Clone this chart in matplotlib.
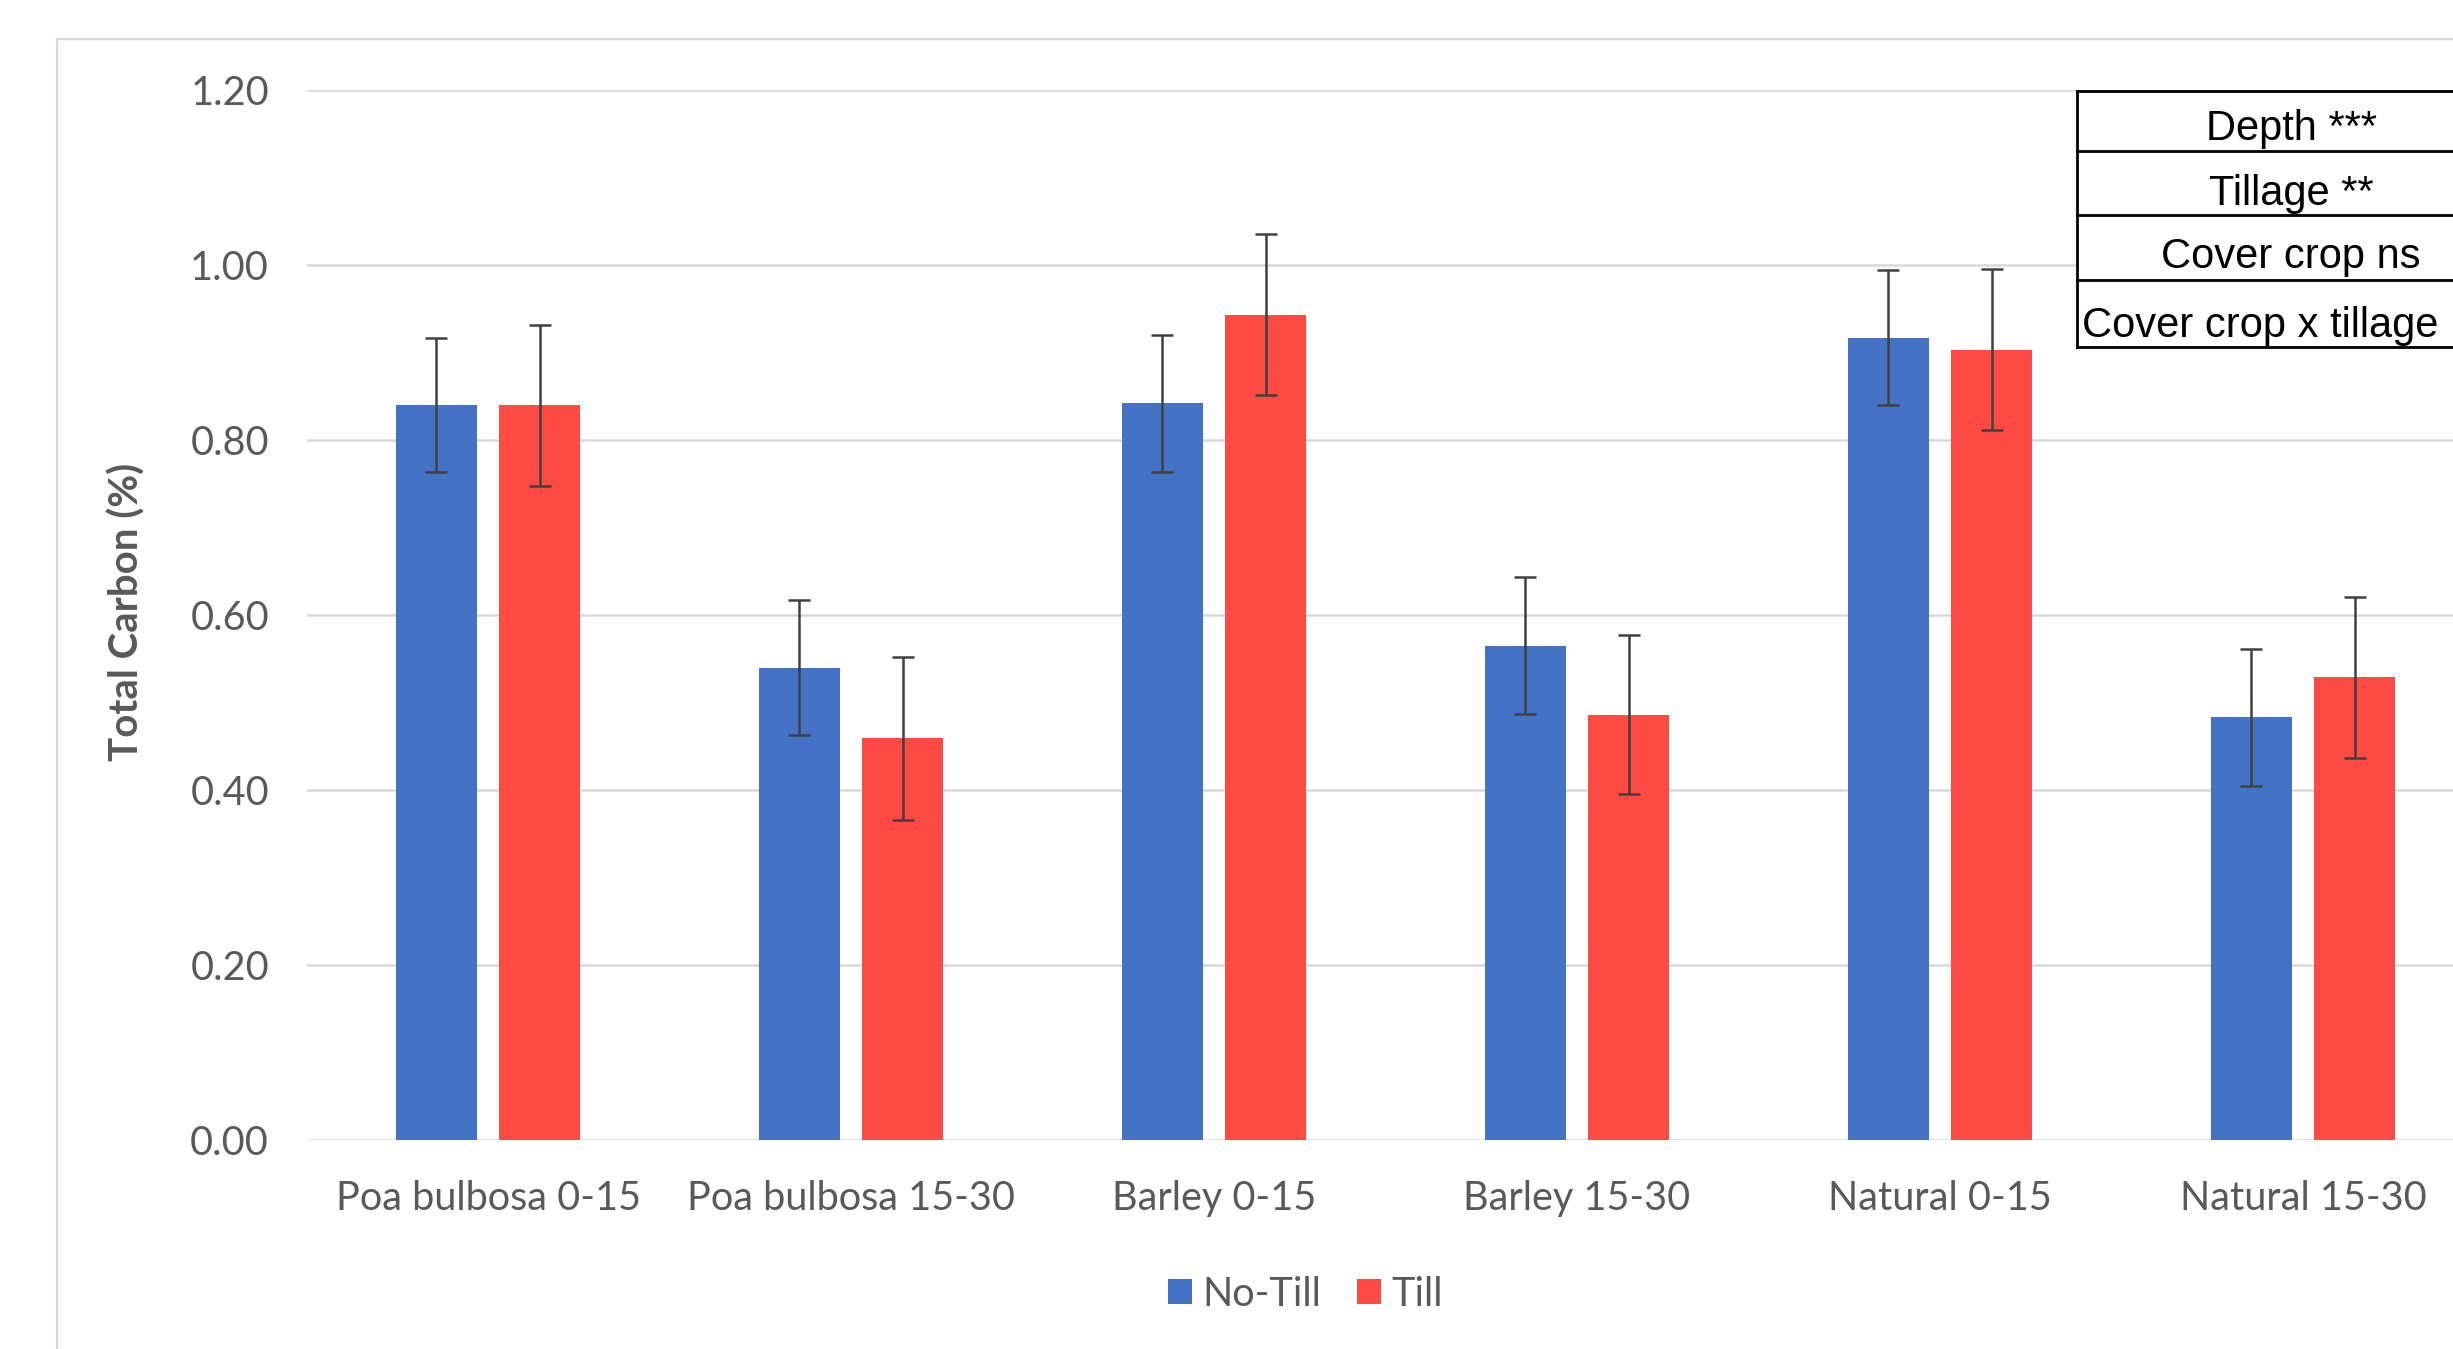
import numpy as np
import matplotlib
matplotlib.use("Agg")
import matplotlib.pyplot as plt
from matplotlib.lines import Line2D
from matplotlib.patches import Patch

# data
categories = ["Poa bulbosa 0-15", "Poa bulbosa 15-30", "Barley 0-15",
              "Barley 15-30", "Natural 0-15", "Natural 15-30"]
no_till = [0.840, 0.540, 0.842, 0.565, 0.917, 0.483]
no_till_err = [0.077, 0.077, 0.078, 0.078, 0.077, 0.078]
till = [0.840, 0.459, 0.943, 0.486, 0.903, 0.529]
till_err = [0.092, 0.093, 0.092, 0.091, 0.092, 0.092]
yticks = [0.0, 0.2, 0.4, 0.6, 0.8, 1.0, 1.2]
table_rows = ["Depth ***", "Tillage **", "Cover crop ns", "Cover crop x tillage"]

BLUE = "#4472C4"
RED = "#FF4B44"
GRAY = "#595959"
GRID = "#D9D9D9"

W, H = 2453, 1349
fig = plt.figure(figsize=(W / 100, H / 100), dpi=100)
fig.patch.set_facecolor("white")

def fx(px):
    return px / W

def fy(py):
    return 1 - py / H

# axes spans past the right edge, as in the cropped original
ax_l, ax_r, ax_b, ax_t = 306.5, 2484.5, 1140, 90
ax = fig.add_axes([fx(ax_l), fy(ax_b), (ax_r - ax_l) / W, (ax_b - ax_t) / H])

x = np.arange(len(categories))
bw = 0.224
off = 0.142
ekw = dict(ecolor="#404040", elinewidth=1.8, capsize=8, capthick=1.8)
ax.bar(x - off, no_till, bw, color=BLUE, yerr=no_till_err, error_kw=ekw, zorder=3, label="No-Till")
ax.bar(x + off, till, bw, color=RED, yerr=till_err, error_kw=ekw, zorder=3, label="Till")

ax.set_xlim(-0.5, len(categories) - 0.5)
ax.set_ylim(0, 1.2)
ax.set_yticks(yticks)
ax.set_yticklabels(["%.2f" % v for v in yticks])
ax.set_xticks(x)
ax.set_xticklabels(categories)
for s in ax.spines.values():
    s.set_visible(False)
ax.grid(axis="y", color=GRID, linewidth=1.8, zorder=0)
ax.set_axisbelow(True)
ax.tick_params(axis="both", length=0, labelsize=28.5, labelcolor=GRAY)
ax.tick_params(axis="y", pad=27)
ax.tick_params(axis="x", pad=29)
for lab in ax.get_xticklabels() + ax.get_yticklabels():
    lab.set_family("Lato")

fig.text(fx(127), fy(612), "Total Carbon (%)", rotation=90, ha="center", va="center",
         fontsize=29, fontweight="bold", color=GRAY, family="Lato")

handles = [Patch(facecolor=BLUE), Patch(facecolor=RED)]
fig.legend(handles, ["No-Till", "Till"], loc="center", ncol=2,
           bbox_to_anchor=(fx(1305), fy(1294)), frameon=False,
           prop={"family": "Lato", "size": 28.5}, labelcolor=GRAY,
           handlelength=0.62, handleheight=0.62, handletextpad=0.25, columnspacing=0.9)

# outer chart frame (cropped on right and bottom)
fig.add_artist(Line2D([fx(57), fx(57)], [fy(39), fy(H + 10)], color=GRID, lw=1.6))
fig.add_artist(Line2D([fx(57), fx(W + 10)], [fy(39), fy(39)], color=GRID, lw=1.6))

# significance table, top right
t_left = 2077
row_lines = [91, 151, 215, 280, 347]
fig.add_artist(plt.Rectangle((fx(t_left), fy(347)), fx(W + 20) - fx(t_left), fy(91) - fy(347),
                             facecolor="white", edgecolor="none", zorder=4))
for yy in row_lines:
    fig.add_artist(Line2D([fx(t_left), fx(W + 10)], [fy(yy), fy(yy)], color="black", lw=2, zorder=5))
fig.add_artist(Line2D([fx(t_left), fx(t_left)], [fy(91), fy(347)], color="black", lw=2, zorder=5))
baselines = [140, 205, 268, 337]
for i, txt in enumerate(table_rows):
    if i < 3:
        fig.text(fx(2291), fy(baselines[i]), txt, ha="center", va="baseline",
                 fontsize=30, family="Liberation Sans", color="black", zorder=6)
    else:
        fig.text(fx(2082), fy(baselines[i]), txt, ha="left", va="baseline",
                 fontsize=30, family="Liberation Sans", color="black", zorder=6)

fig.savefig("out.png", dpi=100)
